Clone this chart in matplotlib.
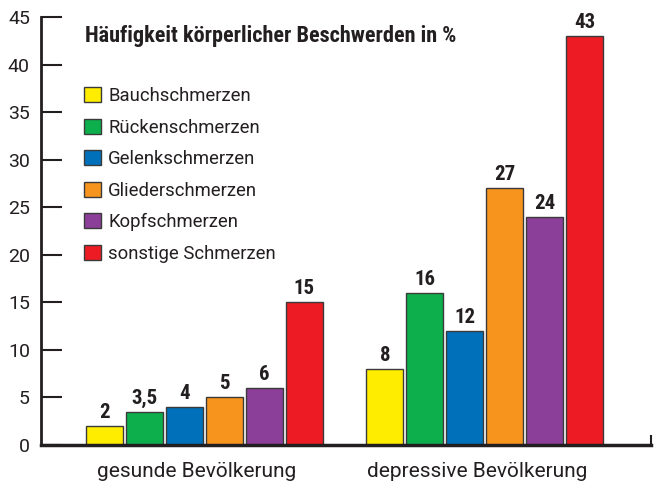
import matplotlib
matplotlib.use("Agg")
import matplotlib.pyplot as plt
import matplotlib.transforms as mtransforms
import numpy as np
from matplotlib.patches import Patch

plt.rcParams['font.family'] = ['Roboto', 'DejaVu Sans']
cond = ['Roboto Condensed', 'Roboto', 'DejaVu Sans']

groups = ["gesunde Bevölkerung", "depressive Bevölkerung"]
series = ["Bauchschmerzen", "Rückenschmerzen", "Gelenkschmerzen",
          "Gliederschmerzen", "Kopfschmerzen", "sonstige Schmerzen"]
gesund = [2, 3.5, 4, 5, 6, 15]
depressiv = [8, 16, 12, 27, 24, 43]
colors = ["#FFED00", "#0DAF4C", "#0070BA", "#F7941D", "#8B3F98", "#ED1C24"]
title = "Häufigkeit körperlicher Beschwerden in %"

fig = plt.figure(figsize=(6.61, 4.87), dpi=100)
ax = fig.add_axes([41/661, 42/487, 610/661, 428/487])

x = np.arange(len(groups))
pitch = 0.1426
width = 0.132
dark = "#231F20"

for i, name in enumerate(series):
    vals = [gesund[i], depressiv[i]]
    bars = ax.bar(x + (i - 2.5) * pitch, vals, width, color=colors[i],
                  edgecolor="#3a3a3a", linewidth=1, label=name)
    labs = [("%g" % v).replace(".", ",") for v in vals]
    ax.bar_label(bars, labels=labs, padding=3, fontsize=15, fontweight="bold",
                 color=dark, family=cond)

ax.set_xlim(-0.583, 1.592)
ax.set_ylim(0, 45)
ax.set_yticks(range(0, 46, 5))
ax.tick_params(axis="y", direction="in", length=15, width=1.5, color=dark,
               labelsize=14, labelcolor=dark, pad=8)
ax.set_xticks(x)
ax.set_xticklabels(groups)
ax.tick_params(axis="x", length=0, labelsize=15, labelcolor=dark, pad=12)
# labels sit a bit left of the group centres in the original
shift = mtransforms.ScaledTranslation(-8/100, 0, fig.dpi_scale_trans)
for lab in ax.get_xticklabels():
    lab.set_transform(lab.get_transform() + shift)

for s in ["top", "right"]:
    ax.spines[s].set_visible(False)
ax.spines["left"].set_linewidth(2)
ax.spines["bottom"].set_linewidth(2.5)
ax.spines["left"].set_color(dark)
ax.spines["bottom"].set_color(dark)
ax.plot([1, 1], [0, 0.02], transform=ax.transAxes, color=dark, lw=1.5, clip_on=False)

ax.text(44/610, 1 - 19/428, title, transform=ax.transAxes, fontsize=16,
        fontweight="bold", color=dark, va="center", ha="left", family=cond)

handles = [Patch(facecolor=c, edgecolor="#3a3a3a", linewidth=1) for c in colors]
ax.legend(handles, series, loc="upper left", bbox_to_anchor=(43/610, 1 - 70/428),
          frameon=False, fontsize=13.3, handlelength=0.9, handleheight=0.9,
          handletextpad=0.4, labelspacing=0.73, borderaxespad=0, borderpad=0,
          labelcolor=dark)

fig.savefig("out.png", dpi=100)
